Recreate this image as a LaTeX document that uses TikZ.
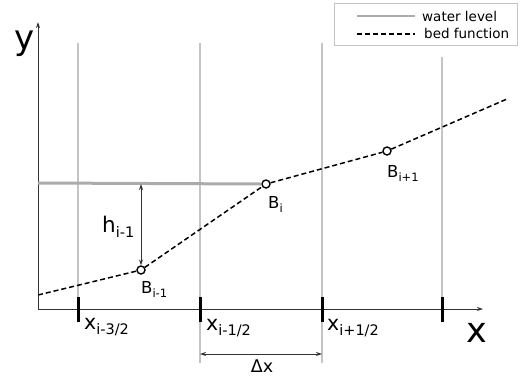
\documentclass[tikz,border=0pt]{standalone}
\usepackage{fontspec}
\setmainfont{DejaVu Sans}
\usetikzlibrary{arrows.meta}
\definecolor{gridgrey}{HTML}{C4C4C4}
\definecolor{watergrey}{HTML}{ABABAB}
\definecolor{axisgrey}{HTML}{333333}
\newcommand{\Sub}[3]{\raisebox{-#1}{\fontsize{#2}{#2}\selectfont #3}}
\tikzset{
  gridline/.style={draw=gridgrey, line width=1.3pt},
  axisline/.style={draw=axisgrey, line width=0.9pt, -{Stealth[length=6pt,width=4pt]}},
  tickmark/.style={draw=black, line width=3pt},
  water/.style={draw=watergrey, line width=3pt},
  bed/.style={draw=black, line width=1.5pt, dash pattern=on 5pt off 3pt},
  bpt/.style={circle, draw=black, fill=white, line width=1.4pt, minimum size=8pt, inner sep=0pt},
  dimarrow/.style={draw=axisgrey, line width=0.9pt, {Stealth[length=6pt,width=4pt]}-{Stealth[length=6pt,width=4pt]}},
  lbl/.style={inner sep=0pt, anchor=base west},
}
\begin{document}
\begin{tikzpicture}[x=1pt, y=-1pt]
\useasboundingbox (0,0) rectangle (527,376);
% vertical grid lines
\coordinate (g1t) at (78,43);   \coordinate (g1b) at (78,309);
\coordinate (g2t) at (200,43);  \coordinate (g2b) at (200,363);
\coordinate (g3t) at (322,43);  \coordinate (g3b) at (322,363);
\coordinate (g4t) at (442,57);  \coordinate (g4b) at (442,309);
\draw[gridline] (g1t) -- (g1b);
\draw[gridline] (g2t) -- (g2b);
\draw[gridline] (g3t) -- (g3b);
\draw[gridline] (g4t) -- (g4b);
% axes
\coordinate (O) at (38,309);
\coordinate (ytip) at (38,22);
\coordinate (xtip) at (483,309);
\draw[axisline] (O) -- (ytip);
\draw[axisline] (O) -- (xtip);
% ticks
\foreach \tx/\nm in {78/t1,200/t2,322/t3,442/t4}{
  \coordinate (\nm a) at (\tx,297);
  \coordinate (\nm b) at (\tx,322);
  \draw[tickmark] (\nm a) -- (\nm b);
}
% bed points
\coordinate (bs) at (38,295);
\coordinate (be) at (507,99);
\node[bpt] (Bm) at (141,270) {};
\node[bpt] (Bi) at (266,184) {};
\node[bpt] (Bp) at (387,151) {};
% water level
\coordinate (ws) at (38,183);
\draw[water] (ws) -- (Bi.west);
% bed function
\draw[bed] (bs) -- (Bm) -- (Bi) -- (Bp) -- (be);
% h arrow
\coordinate (hw) at (141,184);
\draw[dimarrow] (hw) -- (Bm.north);
% dx arrow
\coordinate (dxl) at (200,354);
\coordinate (dxr) at (322,354);
\draw[dimarrow] (dxl) -- (dxr);
% labels
\node[lbl, font=\fontsize{16.5}{16.5}\selectfont] (LBi) at (268,208) {B\Sub{4pt}{11.5}{i}};
\node[lbl, font=\fontsize{16.5}{16.5}\selectfont] (LBm) at (141,293) {B\Sub{4pt}{11.5}{i-1}};
\node[lbl, font=\fontsize{16.5}{16.5}\selectfont] (LBp) at (387,177) {B\Sub{4pt}{11.5}{i+1}};
\node[lbl, font=\fontsize{21.5}{21.5}\selectfont] (Lh) at (102,232) {h\Sub{5pt}{14.5}{i-1}};
\node[lbl, font=\fontsize{20.5}{20.5}\selectfont] (Lx1) at (84,329) {x\Sub{5pt}{14.5}{i-3/2}};
\node[lbl, font=\fontsize{20.5}{20.5}\selectfont] (Lx2) at (206,330) {x\Sub{5pt}{14.5}{i-1/2}};
\node[lbl, font=\fontsize{20.5}{20.5}\selectfont] (Lx3) at (327,330) {x\Sub{5pt}{14.5}{i+1/2}};
\node[lbl, font=\fontsize{35}{35}\selectfont] (LX) at (466,342) {x};
\node[lbl, font=\fontsize{34}{34}\selectfont] (Ly) at (14,49) {y};
\node[inner sep=0pt, anchor=base, font=\fontsize{17.5}{17.5}\selectfont] (Ldx) at (262,372) {Δx};
% legend
\node[draw=gridgrey, line width=1pt, minimum width=183pt, minimum height=42pt, inner sep=0pt, anchor=north west] (leg) at (334,3) {};
\coordinate (lw1) at (357,16); \coordinate (lw2) at (415,16);
\coordinate (lb1) at (357,34); \coordinate (lb2) at (415,34);
\draw[water, line width=2.5pt] (lw1) -- (lw2);
\draw[bed] (lb1) -- (lb2);
\node[lbl, font=\fontsize{13.5}{13.5}\selectfont] (Lwl) at (422,21) {water level};
\node[lbl, font=\fontsize{13.5}{13.5}\selectfont] (Lbf) at (424,38) {bed function};
\end{tikzpicture}
\end{document}
